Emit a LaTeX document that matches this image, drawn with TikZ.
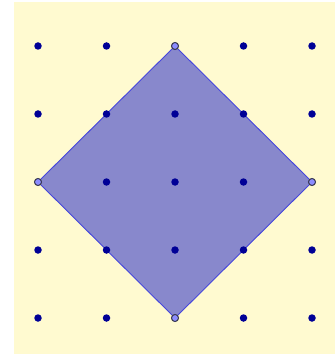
\documentclass[tikz,border=0pt]{standalone}
\definecolor{bgyel}{RGB}{255,250,208}
\definecolor{dotblue}{RGB}{0,0,150}
\definecolor{vfill}{RGB}{140,140,255}
\definecolor{vedge}{RGB}{60,60,80}
\definecolor{polyfill}{RGB}{136,136,204}
\definecolor{polyedge}{RGB}{70,70,220}
\begin{document}
\begin{tikzpicture}[x=1pt,y=-1pt,
  gdot/.style={circle,fill=dotblue,inner sep=0pt,minimum size=7.5pt},
  vdot/.style={circle,fill=vfill,draw=vedge,line width=1pt,inner sep=0pt,minimum size=7pt}]
\useasboundingbox (0,0) rectangle (335,355);
\fill[white] (0,0) rectangle (335,355);
\fill[bgyel] (14,2) rectangle (335,354);
\foreach \i/\x in {0/38,1/106.5,2/175,3/243.5,4/312}
  \foreach \j/\y in {0/46,1/114,2/182,3/250,4/318}
    \coordinate (p\i\j) at (\x,\y);
\fill[polyfill,draw=polyedge,line width=0.9pt]
  (p20) -- (p42) -- (p24) -- (p02) -- cycle;
\foreach \i in {0,...,4}
  \foreach \j in {0,...,4}
    \node[gdot] (d\i\j) at (p\i\j) {};
\foreach \i/\j in {2/0,4/2,2/4,0/2}
  \node[vdot] (v\i\j) at (p\i\j) {};
\end{tikzpicture}
\end{document}
